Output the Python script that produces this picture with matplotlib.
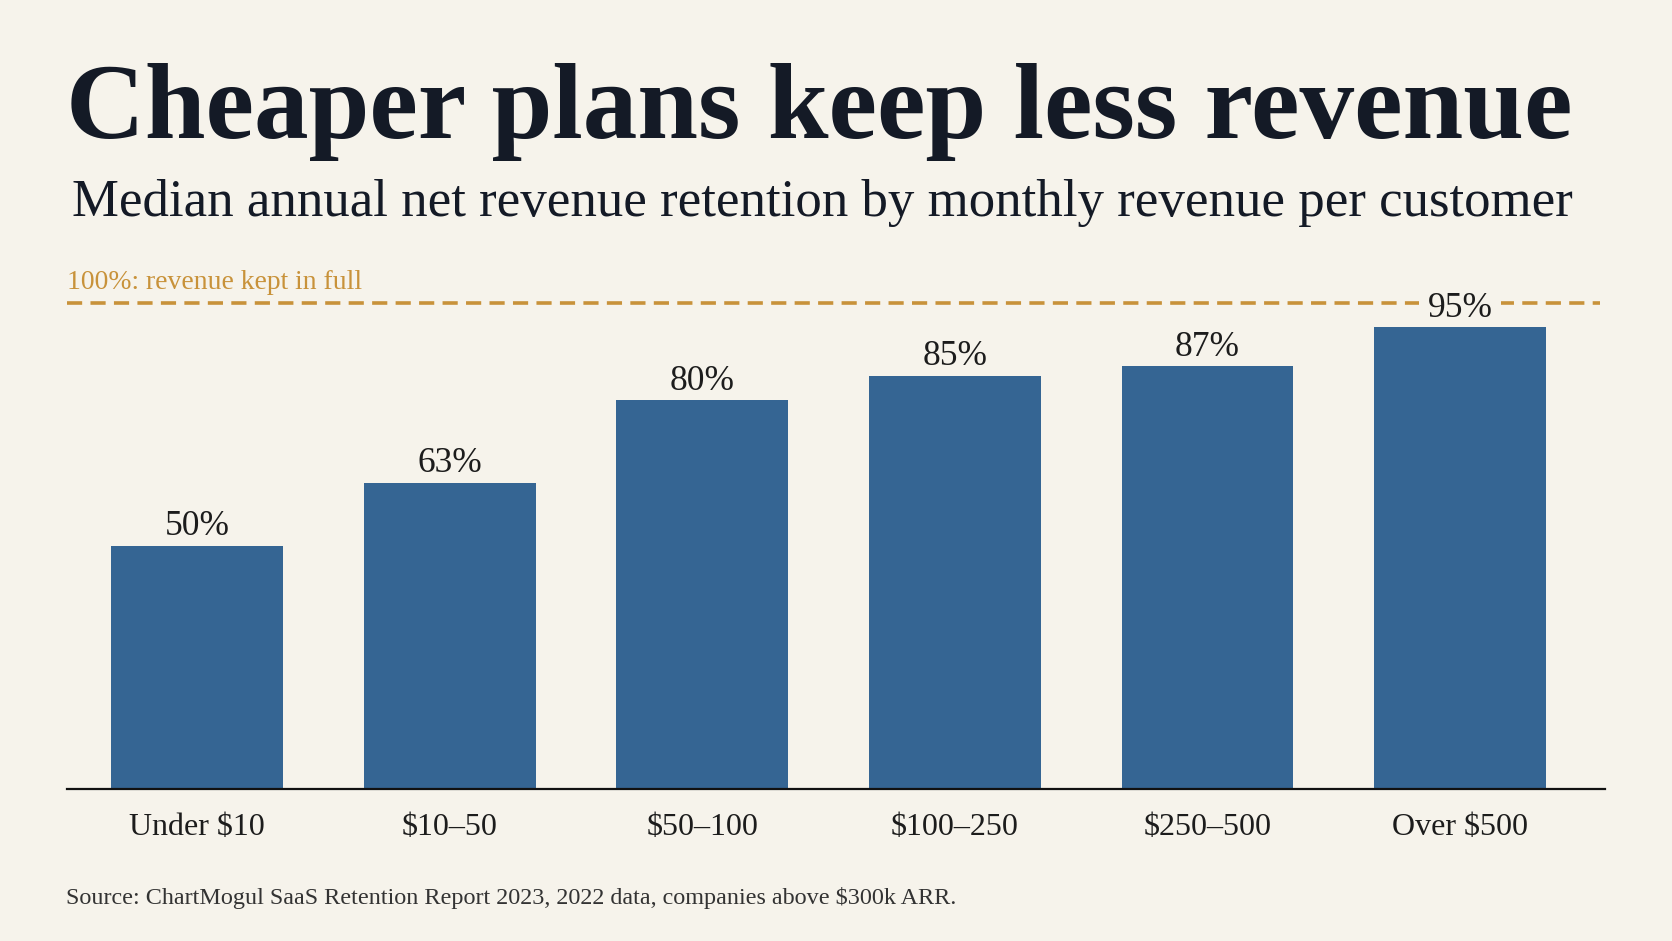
import matplotlib
matplotlib.use("Agg")
import matplotlib.pyplot as plt

# data
categories = ["Under $10", "$10\u201350", "$50\u2013100", "$100\u2013250", "$250\u2013500", "Over $500"]
retention = [50, 63, 80, 85, 87, 95]
full_line = 100

title = "Cheaper plans keep less revenue"
subtitle = "Median annual net revenue retention by monthly revenue per customer"
ref_note = "100%: revenue kept in full"
source = "Source: ChartMogul SaaS Retention Report 2023, 2022 data, companies above $300k ARR."

bg = "#f6f3eb"
bar_col = "#356593"
gold = "#c8923a"
ink = "#141a26"

W, H = 1672, 941
fig = plt.figure(figsize=(W / 100, H / 100), dpi=100, facecolor=bg)
plt.rcParams["font.family"] = ["Liberation Serif", "DejaVu Serif"]

ax = fig.add_axes([67 / W, 1 - 789 / H, (1605 - 67) / W, 110 * 4.863 / H])
ax.set_facecolor(bg)
x = range(len(categories))
# bars above the label boxes, so the box of the top label only cuts the dashed line
ax.bar(x, retention, width=0.68, color=bar_col, zorder=5)
ax.set_xlim(-0.515, len(categories) - 1 + 0.574)
ax.set_ylim(0, 110)

for i, v in enumerate(retention):
    lbl = ax.annotate(f"{v}%", (i, v), xytext=(0, 7.5), textcoords="offset points",
                      ha="center", va="baseline", fontsize=25.5, color="#1c1c1c", zorder=4)
    if v == max(retention):
        lbl.set_bbox(dict(facecolor=bg, edgecolor="none", pad=6))

ax.axhline(full_line, xmin=0, xmax=(1600 - 67) / (1605 - 67), color=gold, lw=2.6,
           dashes=(4.2, 2.3), zorder=3)
fig.text(67 / W, 1 - 289 / H, ref_note, fontsize=19.9, color=gold,
         ha="left", va="baseline")

for s in ["top", "right", "left"]:
    ax.spines[s].set_visible(False)
ax.spines["bottom"].set_color("#111111")
ax.spines["bottom"].set_linewidth(1.6)
ax.spines["bottom"].set_zorder(6)
ax.set_yticks([])
ax.set_xticks(list(x))
ax.set_xticklabels(categories, fontsize=23, color="#1c1c1c")
ax.tick_params(axis="x", length=0, pad=17)

# titles, scaled to the reference width
renderer = fig.canvas.get_renderer()
t = fig.text(66 / W, 1 - 138 / H, title, fontsize=90, fontweight="bold", color=ink,
             ha="left", va="baseline")
st = fig.text(72 / W, 1 - 216 / H, subtitle, fontsize=36, color=ink,
              ha="left", va="baseline")
for obj, target in [(t, 1573 - 66), (st, 1571 - 72)]:
    wpx = obj.get_window_extent(renderer).width
    obj.set_fontsize(obj.get_fontsize() * target / wpx)

fig.text(66 / W, 1 - 904 / H, source, fontsize=17.35, color="#333333", ha="left", va="baseline")

fig.savefig("out.png", dpi=100, facecolor=bg)
